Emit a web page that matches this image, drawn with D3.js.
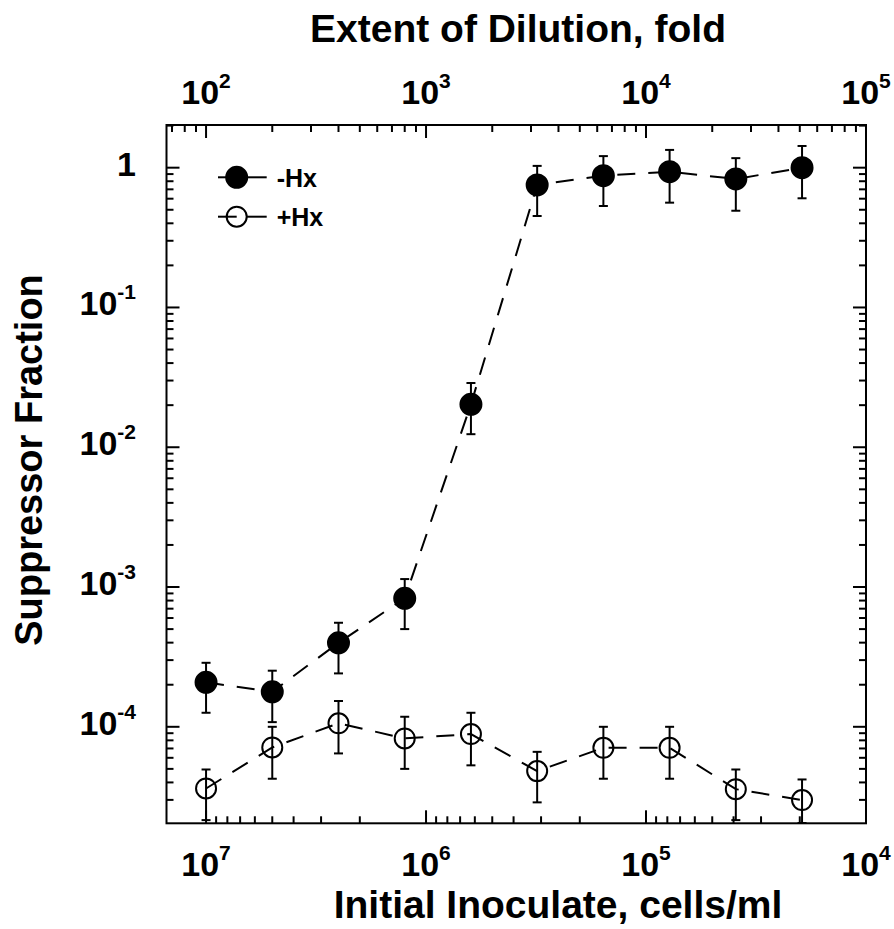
<!DOCTYPE html>
<html>
<head>
<meta charset="utf-8">
<script src="https://cdn.jsdelivr.net/npm/d3@7"></script>
<style>
  body { margin: 0; background: #fff; }
  text { font-family: "Liberation Sans", Arial, sans-serif; font-weight: bold; fill: #000; }
</style>
</head>
<body>
<svg id="chart" width="894" height="929"></svg>
<script>
// dilution fold of each sample (top axis); inoculum = 1e9 / dilution (bottom axis)
let dilution = [100, 200, 400, 800, 1600, 3200, 6400, 12800, 25600, 51200];

// -Hx series
let minusHx   = [2.08e-4, 1.78e-4, 3.99e-4, 8.3e-4, 0.0203, 0.752, 0.877, 0.936, 0.83, 1.0];
let minusHxHi = [2.87e-4, 2.52e-4, 5.55e-4, 1.14e-3, 0.0288, 1.03, 1.21, 1.34, 1.17, 1.43];
let minusHxLo = [1.26e-4, 1.08e-4, 2.41e-4, 5.0e-4, 0.0124, 0.451, 0.532, 0.562, 0.492, 0.604];

// +Hx series
let plusHx   = [3.62e-5, 7.12e-5, 1.06e-4, 8.26e-5, 8.87e-5, 4.82e-5, 7.08e-5, 7.08e-5, 3.58e-5, 2.99e-5];
let plusHxHi = [4.95e-5, 1.0e-4, 1.53e-4, 1.18e-4, 1.26e-4, 6.62e-5, 1.0e-4, 1.0e-4, 4.95e-5, 4.2e-5];
let plusHxLo = [2.15e-5, 4.25e-5, 6.45e-5, 5.0e-5, 5.3e-5, 2.88e-5, 4.25e-5, 4.25e-5, 2.15e-5, 2.05e-5];

let topTicks = [1e2, 1e3, 1e4, 1e5];
let bottomTicks = [1e7, 1e6, 1e5, 1e4];
let yTicks = [1, 1e-1, 1e-2, 1e-3, 1e-4];

let plotLeft = 166.5, plotRight = 866, plotTop = 125, plotBottom = 823.3;

let svg = d3.select("#chart");

let x = d3.scaleLog().domain([66.1, 1e5]).range([plotLeft, plotRight]);
let xCells = d3.scaleLog().domain([1e9 / 66.1, 1e4]).range([plotLeft, plotRight]);
let y = d3.scaleLog().domain([2.04e-5, 2.02]).range([plotBottom, plotTop]);

function exponent(v) { return Math.round(Math.log10(v)); }

function minorTicks(scale) {
    let [a, b] = scale.domain();
    return scale.ticks().filter(v => v >= Math.min(a, b) && v <= Math.max(a, b));
}

function isMajor(v) { return Math.abs(Math.log10(v) - exponent(v)) < 1e-6; }

let axisG = svg.append("g").attr("stroke", "#000").attr("stroke-width", 2);

// frame
axisG.append("rect")
    .attr("x", plotLeft).attr("y", plotTop)
    .attr("width", plotRight - plotLeft).attr("height", plotBottom - plotTop)
    .attr("fill", "none");

// top ticks (dilution) and bottom ticks (cells), pointing inward
minorTicks(x).forEach(v => {
    let len = isMajor(v) ? 13 : 7;
    axisG.append("line").attr("x1", x(v)).attr("x2", x(v)).attr("y1", plotTop).attr("y2", plotTop + len);
});
minorTicks(xCells).forEach(v => {
    let len = isMajor(v) ? 13 : 7;
    axisG.append("line").attr("x1", xCells(v)).attr("x2", xCells(v)).attr("y1", plotBottom).attr("y2", plotBottom - len);
});
// left and right ticks
minorTicks(y).forEach(v => {
    let len = isMajor(v) ? 13 : 7;
    axisG.append("line").attr("x1", plotLeft).attr("x2", plotLeft + len).attr("y1", y(v)).attr("y2", y(v));
    axisG.append("line").attr("x1", plotRight).attr("x2", plotRight - len).attr("y1", y(v)).attr("y2", y(v));
});

// power-of-ten labels
function powerLabel(g, v, px, py, anchor) {
    let e = exponent(v);
    let t = g.append("text").attr("x", px).attr("y", py)
        .attr("text-anchor", anchor).style("font-size", "34px");
    if (e === 0) {
        t.text("1");
        return;
    }
    t.append("tspan").text("10");
    t.append("tspan").attr("dy", -16).style("font-size", "21px").text(e);
}

let labels = svg.append("g");
topTicks.forEach(v => powerLabel(labels, v, x(v), 104, "middle"));
bottomTicks.forEach(v => powerLabel(labels, v, xCells(v), 876, "middle"));
yTicks.forEach(v => powerLabel(labels, v, 136, y(v) + 8, "end"));

// axis titles
svg.append("text").attr("x", 518).attr("y", 42).attr("text-anchor", "middle")
    .style("font-size", "39px").text("Extent of Dilution, fold");
svg.append("text").attr("x", 558).attr("y", 918).attr("text-anchor", "middle")
    .style("font-size", "39px").text("Initial Inoculate, cells/ml");
svg.append("text").attr("transform", "translate(42,460) rotate(-90)").attr("text-anchor", "middle")
    .style("font-size", "38px").text("Suppressor Fraction");

// series
let series = [
    {name: "-Hx", values: minusHx, hi: minusHxHi, lo: minusHxLo, fill: "#000"},
    {name: "+Hx", values: plusHx, hi: plusHxHi, lo: plusHxLo, fill: "none"}
];

let line = d3.line().x(d => x(d[0])).y(d => y(d[1]));

series.forEach(s => {
    let pts = dilution.map((d, i) => [d, s.values[i], s.hi[i], s.lo[i]]);
    let g = svg.append("g");

    g.append("path")
        .attr("d", line(pts))
        .attr("fill", "none")
        .attr("stroke", "#000")
        .attr("stroke-width", 2)
        .attr("stroke-dasharray", "18,13");

    let bars = g.append("g").attr("stroke", "#000").attr("stroke-width", 2);
    pts.forEach(p => {
        let cx = x(p[0]);
        bars.append("line").attr("x1", cx).attr("x2", cx).attr("y1", y(p[2])).attr("y2", y(p[3]));
        bars.append("line").attr("x1", cx - 4.5).attr("x2", cx + 4.5).attr("y1", y(p[2])).attr("y2", y(p[2]));
        bars.append("line").attr("x1", cx - 4.5).attr("x2", cx + 4.5).attr("y1", y(p[3])).attr("y2", y(p[3]));
    });

    g.selectAll("circle")
        .data(pts)
        .enter()
        .append("circle")
        .attr("cx", d => x(d[0]))
        .attr("cy", d => y(d[1]))
        .attr("r", s.fill === "none" ? 10 : 10.5)
        .attr("fill", s.fill)
        .attr("stroke", "#000")
        .attr("stroke-width", 2);
});

// legend
let legend = svg.append("g");
series.forEach((s, i) => {
    let ly = 177.3 + i * 39.4;
    legend.append("line").attr("x1", 218).attr("x2", 236.7).attr("y1", ly).attr("y2", ly)
        .attr("stroke", "#000").attr("stroke-width", 2);
    legend.append("line").attr("x1", 246).attr("x2", 266.7).attr("y1", ly).attr("y2", ly)
        .attr("stroke", "#000").attr("stroke-width", 2);
    legend.append("circle").attr("cx", 236.7).attr("cy", ly)
        .attr("r", s.fill === "none" ? 10 : 10.5)
        .attr("fill", s.fill)
        .attr("stroke", "#000").attr("stroke-width", 2);
    legend.append("text").attr("x", 276.7).attr("y", ly + 9.4)
        .style("font-size", "25px").text(s.name);
});
</script>
</body>
</html>
